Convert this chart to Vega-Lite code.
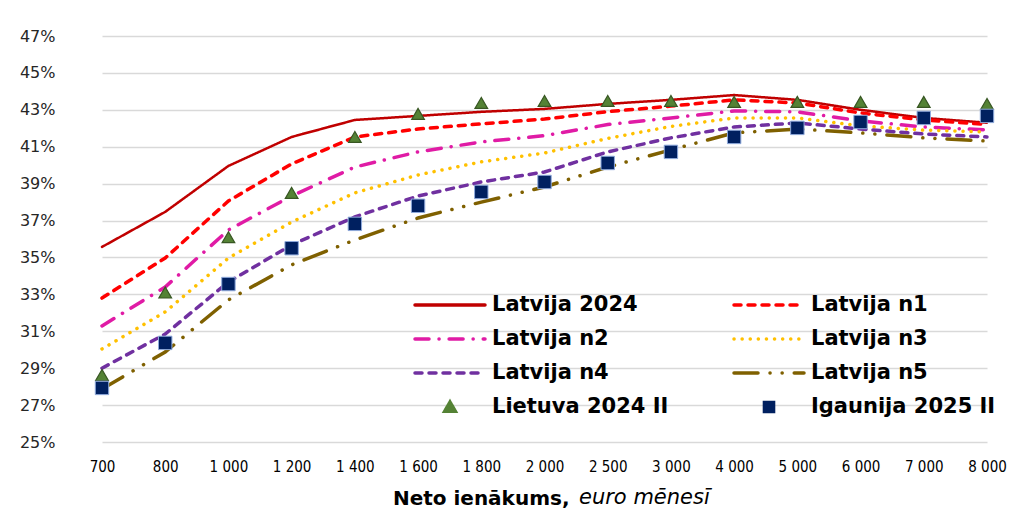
{
  "$schema": "https://vega.github.io/schema/vega-lite/v6.json",
  "width": 941,
  "height": 406,
  "autosize": {"type": "none"},
  "padding": {"left": 71, "top": 36, "right": 0, "bottom": 67},
  "background": "white",
  "config": {"view": {"stroke": null}, "font": "DejaVu Sans"},
  "title": {"text": "euro mēnesī", "orient": "bottom", "anchor": "start", "frame": "group", "dx": 508, "offset": -21, "font": "DejaVu Sans", "fontSize": 21, "fontStyle": "italic", "fontWeight": "normal", "color": "#000000"},
  "data": {"values": [
    {"s": "Latvija 2024", "x": "700", "v": 35.57}, {"s": "Latvija 2024", "x": "800", "v": 37.47}, {"s": "Latvija 2024", "x": "1 000", "v": 39.96}, {"s": "Latvija 2024", "x": "1 200", "v": 41.53}, {"s": "Latvija 2024", "x": "1 400", "v": 42.45}, {"s": "Latvija 2024", "x": "1 600", "v": 42.67}, {"s": "Latvija 2024", "x": "1 800", "v": 42.89}, {"s": "Latvija 2024", "x": "2 000", "v": 43.05}, {"s": "Latvija 2024", "x": "2 500", "v": 43.32}, {"s": "Latvija 2024", "x": "3 000", "v": 43.54}, {"s": "Latvija 2024", "x": "4 000", "v": 43.8}, {"s": "Latvija 2024", "x": "5 000", "v": 43.54}, {"s": "Latvija 2024", "x": "6 000", "v": 43.0}, {"s": "Latvija 2024", "x": "7 000", "v": 42.56}, {"s": "Latvija 2024", "x": "8 000", "v": 42.3},
    {"s": "Latvija n1", "x": "700", "v": 32.8}, {"s": "Latvija n1", "x": "800", "v": 34.97}, {"s": "Latvija n1", "x": "1 000", "v": 38.06}, {"s": "Latvija n1", "x": "1 200", "v": 40.07}, {"s": "Latvija n1", "x": "1 400", "v": 41.53}, {"s": "Latvija n1", "x": "1 600", "v": 41.96}, {"s": "Latvija n1", "x": "1 800", "v": 42.24}, {"s": "Latvija n1", "x": "2 000", "v": 42.5}, {"s": "Latvija n1", "x": "2 500", "v": 42.9}, {"s": "Latvija n1", "x": "3 000", "v": 43.2}, {"s": "Latvija n1", "x": "4 000", "v": 43.54}, {"s": "Latvija n1", "x": "5 000", "v": 43.37}, {"s": "Latvija n1", "x": "6 000", "v": 42.83}, {"s": "Latvija n1", "x": "7 000", "v": 42.45}, {"s": "Latvija n1", "x": "8 000", "v": 42.2},
    {"s": "Latvija n2", "x": "700", "v": 31.29}, {"s": "Latvija n2", "x": "800", "v": 33.4}, {"s": "Latvija n2", "x": "1 000", "v": 36.49}, {"s": "Latvija n2", "x": "1 200", "v": 38.33}, {"s": "Latvija n2", "x": "1 400", "v": 39.9}, {"s": "Latvija n2", "x": "1 600", "v": 40.72}, {"s": "Latvija n2", "x": "1 800", "v": 41.26}, {"s": "Latvija n2", "x": "2 000", "v": 41.6}, {"s": "Latvija n2", "x": "2 500", "v": 42.2}, {"s": "Latvija n2", "x": "3 000", "v": 42.56}, {"s": "Latvija n2", "x": "4 000", "v": 42.94}, {"s": "Latvija n2", "x": "5 000", "v": 42.89}, {"s": "Latvija n2", "x": "6 000", "v": 42.4}, {"s": "Latvija n2", "x": "7 000", "v": 42.07}, {"s": "Latvija n2", "x": "8 000", "v": 41.91},
    {"s": "Latvija n3", "x": "700", "v": 30.04}, {"s": "Latvija n3", "x": "800", "v": 32.05}, {"s": "Latvija n3", "x": "1 000", "v": 34.97}, {"s": "Latvija n3", "x": "1 200", "v": 36.92}, {"s": "Latvija n3", "x": "1 400", "v": 38.5}, {"s": "Latvija n3", "x": "1 600", "v": 39.47}, {"s": "Latvija n3", "x": "1 800", "v": 40.18}, {"s": "Latvija n3", "x": "2 000", "v": 40.66}, {"s": "Latvija n3", "x": "2 500", "v": 41.45}, {"s": "Latvija n3", "x": "3 000", "v": 42.1}, {"s": "Latvija n3", "x": "4 000", "v": 42.56}, {"s": "Latvija n3", "x": "5 000", "v": 42.56}, {"s": "Latvija n3", "x": "6 000", "v": 42.13}, {"s": "Latvija n3", "x": "7 000", "v": 41.9}, {"s": "Latvija n3", "x": "8 000", "v": 41.8},
    {"s": "Latvija n4", "x": "700", "v": 29.0}, {"s": "Latvija n4", "x": "800", "v": 30.85}, {"s": "Latvija n4", "x": "1 000", "v": 33.67}, {"s": "Latvija n4", "x": "1 200", "v": 35.68}, {"s": "Latvija n4", "x": "1 400", "v": 37.2}, {"s": "Latvija n4", "x": "1 600", "v": 38.33}, {"s": "Latvija n4", "x": "1 800", "v": 39.09}, {"s": "Latvija n4", "x": "2 000", "v": 39.63}, {"s": "Latvija n4", "x": "2 500", "v": 40.72}, {"s": "Latvija n4", "x": "3 000", "v": 41.48}, {"s": "Latvija n4", "x": "4 000", "v": 42.07}, {"s": "Latvija n4", "x": "5 000", "v": 42.29}, {"s": "Latvija n4", "x": "6 000", "v": 41.96}, {"s": "Latvija n4", "x": "7 000", "v": 41.69}, {"s": "Latvija n4", "x": "8 000", "v": 41.53},
    {"s": "Latvija n5", "x": "700", "v": 27.87}, {"s": "Latvija n5", "x": "800", "v": 29.88}, {"s": "Latvija n5", "x": "1 000", "v": 32.7}, {"s": "Latvija n5", "x": "1 200", "v": 34.6}, {"s": "Latvija n5", "x": "1 400", "v": 35.95}, {"s": "Latvija n5", "x": "1 600", "v": 37.14}, {"s": "Latvija n5", "x": "1 800", "v": 38.0}, {"s": "Latvija n5", "x": "2 000", "v": 38.82}, {"s": "Latvija n5", "x": "2 500", "v": 39.9}, {"s": "Latvija n5", "x": "3 000", "v": 40.83}, {"s": "Latvija n5", "x": "4 000", "v": 41.75}, {"s": "Latvija n5", "x": "5 000", "v": 41.96}, {"s": "Latvija n5", "x": "6 000", "v": 41.75}, {"s": "Latvija n5", "x": "7 000", "v": 41.48}, {"s": "Latvija n5", "x": "8 000", "v": 41.31},
    {"s": "Lietuva 2024 II", "x": "700", "v": 28.63}, {"s": "Lietuva 2024 II", "x": "800", "v": 33.1}, {"s": "Lietuva 2024 II", "x": "1 000", "v": 36.1}, {"s": "Lietuva 2024 II", "x": "1 200", "v": 38.5}, {"s": "Lietuva 2024 II", "x": "1 400", "v": 41.53}, {"s": "Lietuva 2024 II", "x": "1 600", "v": 42.78}, {"s": "Lietuva 2024 II", "x": "1 800", "v": 43.37}, {"s": "Lietuva 2024 II", "x": "2 000", "v": 43.48}, {"s": "Lietuva 2024 II", "x": "2 500", "v": 43.48}, {"s": "Lietuva 2024 II", "x": "3 000", "v": 43.48}, {"s": "Lietuva 2024 II", "x": "4 000", "v": 43.43}, {"s": "Lietuva 2024 II", "x": "5 000", "v": 43.43}, {"s": "Lietuva 2024 II", "x": "6 000", "v": 43.43}, {"s": "Lietuva 2024 II", "x": "7 000", "v": 43.43}, {"s": "Lietuva 2024 II", "x": "8 000", "v": 43.32},
    {"s": "Igaunija 2025 II", "x": "700", "v": 27.93}, {"s": "Igaunija 2025 II", "x": "800", "v": 30.37}, {"s": "Igaunija 2025 II", "x": "1 000", "v": 33.56}, {"s": "Igaunija 2025 II", "x": "1 200", "v": 35.5}, {"s": "Igaunija 2025 II", "x": "1 400", "v": 36.82}, {"s": "Igaunija 2025 II", "x": "1 600", "v": 37.8}, {"s": "Igaunija 2025 II", "x": "1 800", "v": 38.55}, {"s": "Igaunija 2025 II", "x": "2 000", "v": 39.09}, {"s": "Igaunija 2025 II", "x": "2 500", "v": 40.12}, {"s": "Igaunija 2025 II", "x": "3 000", "v": 40.72}, {"s": "Igaunija 2025 II", "x": "4 000", "v": 41.53}, {"s": "Igaunija 2025 II", "x": "5 000", "v": 42.02}, {"s": "Igaunija 2025 II", "x": "6 000", "v": 42.34}, {"s": "Igaunija 2025 II", "x": "7 000", "v": 42.56}, {"s": "Igaunija 2025 II", "x": "8 000", "v": 42.67}
  ]},
  "encoding": {
    "x": {"field": "x", "type": "ordinal",
      "scale": {"type": "point", "domain": ["700", "800", "1 000", "1 200", "1 400", "1 600", "1 800", "2 000", "2 500", "3 000", "4 000", "5 000", "6 000", "7 000", "8 000"], "range": [31, 916], "padding": 0},
      "axis": {"title": "Neto ienākums,", "titleFont": "DejaVu Sans", "titleFontSize": 20, "titleFontWeight": "bold", "titleColor": "#000000", "titleX": 498, "titleAlign": "right", "titlePadding": 14, "labelFont": "DejaVu Sans Condensed, Liberation Sans", "labelFontSize": 15, "labelColor": "#000000", "labelPadding": 17, "labelAngle": 0, "ticks": false, "domain": false, "grid": false}},
    "y": {"field": "v", "type": "quantitative",
      "scale": {"domain": [25, 47], "nice": false, "zero": false},
      "axis": {"title": null, "values": [25, 27, 29, 31, 33, 35, 37, 39, 41, 43, 45, 47], "labelExpr": "datum.value + '%'", "labelFont": "DejaVu Sans", "labelFontSize": 16, "labelColor": "#262626", "labelPadding": 16, "ticks": false, "domain": false, "gridColor": "#d9d9d9", "gridWidth": 1.5}},
    "color": {"field": "s", "type": "nominal",
      "scale": {"domain": ["Latvija 2024", "Latvija n1", "Latvija n2", "Latvija n3", "Latvija n4", "Latvija n5", "Lietuva 2024 II", "Igaunija 2025 II"], "range": ["#c00000", "#ff0000", "#e01ba5", "#ffc000", "#7030a0", "#7f6000", "#548235", "#002060"]},
      "legend": {"orient": "none", "direction": "horizontal", "legendX": 342, "legendY": 252, "columns": 2, "title": null, "clipHeight": 34, "symbolSize": 4900, "symbolStrokeWidth": 3.5, "symbolOffset": 0, "columnPadding": 63, "rowPadding": 0, "labelOffset": 5, "labelFont": "DejaVu Sans", "labelFontSize": 21, "labelFontWeight": "bold", "labelColor": "#000000", "labelLimit": 400, "padding": 0,
        "encode": {"symbols": {"update": {
          "shape": {"signal": "datum.value === 'Lietuva 2024 II' ? 'M-0.15,0.12L0,-0.14L0.15,0.12Z' : datum.value === 'Igaunija 2025 II' ? 'M-0.13,-0.13H0.13V0.13H-0.13Z' : 'stroke'"},
          "strokeDash": {"scale": "strokeDash", "field": "value"},
          "fill": {"scale": "color", "field": "value"},
          "stroke": {"signal": "(datum.value === 'Lietuva 2024 II' || datum.value === 'Igaunija 2025 II') ? 'transparent' : scale('color', datum.value)"},
          "opacity": {"value": 1},
          "strokeCap": {"value": "round"}
        }}}}
    }
  },
  "layer": [
    {"transform": [{"filter": "datum.s === 'Latvija 2024'"}],
     "mark": {"type": "line", "strokeWidth": 2.5, "strokeCap": "round"},
     "encoding": {"strokeDash": {"field": "s", "type": "nominal", "legend": null,
        "scale": {"domain": ["Latvija 2024", "Latvija n1", "Latvija n2", "Latvija n3", "Latvija n4", "Latvija n5", "Lietuva 2024 II", "Igaunija 2025 II"], "range": [[1, 0], [7, 7], [14, 10, 0.1, 10], [0.1, 8], [7, 7], [24, 12, 0.1, 12, 0.1, 12], [1, 0], [1, 0]]}}}},
    {"transform": [{"filter": "indexof(['Latvija n1','Latvija n2','Latvija n3','Latvija n4','Latvija n5'], datum.s) >= 0"}],
     "mark": {"type": "line", "strokeWidth": 3.5, "strokeCap": "round"},
     "encoding": {"strokeDash": {"field": "s", "type": "nominal", "legend": null,
        "scale": {"domain": ["Latvija 2024", "Latvija n1", "Latvija n2", "Latvija n3", "Latvija n4", "Latvija n5", "Lietuva 2024 II", "Igaunija 2025 II"], "range": [[1, 0], [7, 7], [14, 10, 0.1, 10], [0.1, 8], [7, 7], [24, 12, 0.1, 12, 0.1, 12], [1, 0], [1, 0]]}}}},
    {"transform": [{"filter": "datum.s === 'Lietuva 2024 II'"}],
     "mark": {"type": "point", "shape": "triangle-up", "filled": true, "size": 160, "stroke": "#385723", "strokeWidth": 1.2, "opacity": 1}},
    {"transform": [{"filter": "datum.s === 'Igaunija 2025 II'"}],
     "mark": {"type": "point", "shape": "square", "filled": true, "size": 180, "stroke": "#8faadc", "strokeWidth": 1, "opacity": 1}}
  ]
}
